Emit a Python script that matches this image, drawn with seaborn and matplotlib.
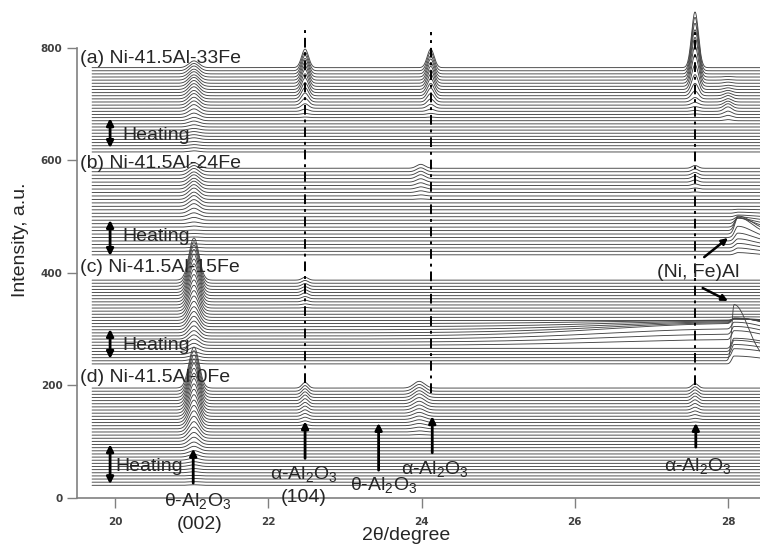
import numpy as np
import pandas as pd
import matplotlib
matplotlib.use("Agg")
import matplotlib.pyplot as plt
import seaborn as sns

# 2theta grid of the scans
two_theta = np.linspace(19.7, 28.5, 1400)

# four alloys, stacked from top (a) to bottom (d)
group_labels = ["(a) Ni-41.5Al-33Fe", "(b) Ni-41.5Al-24Fe",
                "(c) Ni-41.5Al-15Fe", "(d) Ni-41.5Al-0Fe"]
group_counts = [28, 26, 28, 32]
group_base_low = [615, 432, 238, 22]
group_base_high = [765, 586, 387, 195]

# peaks: (centre, left width, right width, heights from bottom scan to top scan)
peaks_a = [
    (21.03, 0.065, 0.065, [2, 2, 2, 2, 3, 3, 3, 3, 4, 5, 6, 8, 10, 12, 13, 14, 15, 15, 16, 16, 16, 16, 15, 15, 14, 14, 13, 12]),
    (22.48, 0.045, 0.045, [0] * 11 + [1, 2, 4, 8, 12, 16, 20, 23, 26, 28, 30, 31, 32, 33, 33, 33, 33]),
    (24.12, 0.045, 0.045, [0] * 11 + [1, 2, 4, 7, 11, 15, 19, 22, 25, 27, 29, 30, 31, 32, 32, 33, 33]),
    (27.57, 0.045, 0.045, [0] * 12 + [1, 2, 3, 5, 8, 14, 22, 32, 44, 56, 66, 76, 84, 90, 95, 99]),
    (28.00, 0.05, 0.05, [0] * 10 + [2, 4, 6, 8, 8, 7, 6, 6, 5, 4, 3, 2, 2, 1, 1, 0, 0, 0]),
]
peaks_b = [
    (21.03, 0.065, 0.065, [1] * 8 + [2, 3, 5, 7, 9, 11, 12, 13, 13, 14, 14, 14, 13, 13, 12, 12, 11, 10]),
    (23.99, 0.055, 0.055, [0] * 16 + [1, 2, 3, 4, 5, 6, 7, 7, 7, 7]),
    (27.57, 0.04, 0.04, [0] * 18 + [1, 2, 3, 4, 5, 5, 5, 5]),
    (28.13, 0.04, 0.18, [4, 6, 8, 10, 14, 20, 30, 26, 16, 10, 6, 3, 2, 1] + [0] * 12),
]
peaks_c = [
    (21.03, 0.065, 0.065, [2, 3, 4, 5, 7, 9, 11, 13, 15, 18, 21, 24, 27, 30, 34, 38, 42, 46, 50, 54, 58, 62, 65, 68, 71, 73, 74, 75]),
    (22.48, 0.04, 0.04, [0] * 18 + [1, 2, 3, 4, 5, 5, 5, 5, 5, 5]),
    (28.08, 0.03, 0.45, [14, 0, 16, 18, 20, 18, 16, 14, 12, 10, 8, 6, 4, 3, 2, 1] + [0] * 12),
    (28.08, 0.03, 0.18, [0, 100] + [0] * 26),
    (28.10, 1.6, 0.5, [0] * 6 + [10, 14, 18, 22, 18, 14, 10, 6] + [0] * 14),
]
peaks_d = [
    (21.03, 0.065, 0.065, [1, 1, 1, 1, 2, 2, 3, 3, 4, 5, 6, 8, 10, 13, 16, 20, 24, 28, 32, 36, 40, 44, 48, 52, 56, 60, 63, 66, 68, 70, 72, 73]),
    (22.48, 0.04, 0.04, [0] * 18 + [1, 2, 3, 4, 5, 6, 7, 8, 9, 10, 10, 10, 10, 10]),
    (23.97, 0.07, 0.07, [0] * 16 + [1, 2, 3, 4, 5, 6, 7, 8, 9, 10, 11, 12, 12, 12, 12, 12]),
    (27.57, 0.04, 0.04, [0] * 20 + [1, 2, 3, 4, 5, 6, 7, 8, 8, 8, 8, 8]),
]
group_peaks = [peaks_a, peaks_b, peaks_c, peaks_d]


def peak_shape(x, c, wl, wr):
    w = np.where(x < c, wl, wr)
    return np.exp(-0.5 * ((x - c) / w) ** 2)


frames = []
trace_id = 0
for g in range(4):
    n = group_counts[g]
    bases = np.linspace(group_base_low[g], group_base_high[g], n)
    for i in range(n):
        y = np.full_like(two_theta, bases[i])
        for c, wl, wr, heights in group_peaks[g]:
            y = y + heights[i] * peak_shape(two_theta, c, wl, wr)
        frames.append(pd.DataFrame({"two_theta": two_theta, "intensity": y, "trace": trace_id}))
        trace_id += 1
df = pd.concat(frames, ignore_index=True)

sns.set_style("ticks")
plt.rcParams["font.family"] = ["Liberation Sans", "DejaVu Sans"]
plt.rcParams["mathtext.fontset"] = "custom"
plt.rcParams["mathtext.rm"] = "Liberation Sans"

fig = plt.figure(figsize=(7.6, 5.45), dpi=100)
ax = fig.add_axes([0.1013, 0.0868, 0.8987, 0.9077])

sns.lineplot(data=df, x="two_theta", y="intensity", units="trace", estimator=None,
             sort=False, color="#444444", linewidth=0.65, legend=False, ax=ax)

ax.set_xlim(19.503, 28.418)
ax.set_ylim(0, 880)
ax.set_xticks([20, 22, 24, 26, 28])
ax.set_yticks([0, 200, 400, 600, 800])
for side in ["top", "right"]:
    ax.spines[side].set_visible(False)
ax.spines["left"].set_bounds(0, 800)
for side in ["left", "bottom"]:
    ax.spines[side].set_color("#808080")
    ax.spines[side].set_linewidth(1.2)
ax.tick_params(axis="both", direction="out", length=7, width=1, color="#808080",
               labelsize=7.5, labelcolor="#404040")
ax.tick_params(axis="x", pad=7)
ax.tick_params(axis="y", pad=3.5)
for lab in ax.get_xticklabels() + ax.get_yticklabels():
    lab.set_fontweight("bold")
    lab.set_family("DejaVu Sans")

ax.set_xlabel("2θ/degree", fontsize=14)
ax.set_ylabel("Intensity, a.u.", fontsize=14)
ax.xaxis.set_label_coords(0.482, -0.060)
ax.yaxis.set_label_coords(-0.070, 0.521)

# reference lines of the alpha-Al2O3 peaks
dashdot = (0, (5, 2.5, 1.5, 2.5))
ax.plot([22.48, 22.48], [204, 835], color="black", lw=1.4, ls=dashdot)
ax.plot([24.13, 24.13], [186, 828], color="black", lw=1.4, ls=dashdot)
ax.plot([27.57, 27.57], [200, 835], color="black", lw=1.4, ls=dashdot)

# sample labels and heating arrows
label_y = [782, 595, 409, 213]
heat_arrow = [(675, 622), (494, 430), (300, 247), (95, 24)]
heat_text = [(20.09, 645), (20.09, 464), (20.09, 271), (20.0, 56)]
for g in range(4):
    ax.text(19.54, label_y[g], group_labels[g], fontsize=14, ha="left", va="center")
    ax.annotate("", xy=(19.935, heat_arrow[g][0]), xytext=(19.935, heat_arrow[g][1]),
                arrowprops=dict(arrowstyle="<|-|>", lw=2, color="black", mutation_scale=10,
                                shrinkA=0, shrinkB=0))
    ax.text(heat_text[g][0], heat_text[g][1], "Heating", fontsize=14, ha="left", va="center")

# phase markers on the bottom pattern
up_arrows = [(21.02, 26, 87), (22.48, 70, 136), (23.44, 49, 133), (24.14, 80, 145), (27.58, 90, 133)]
for x, y0, y1 in up_arrows:
    ax.annotate("", xy=(x, y1), xytext=(x, y0),
                arrowprops=dict(arrowstyle="-|>", lw=2, color="black", mutation_scale=10,
                                shrinkA=0, shrinkB=0))

theta = r"θ-Al$_\mathregular{2}$O$_\mathregular{3}$"
alpha = r"α-Al$_\mathregular{2}$O$_\mathregular{3}$"
ax.text(21.08, -8, theta, fontsize=14, ha="center", va="center")
ax.text(21.11, -48, "(002)", fontsize=14, ha="center", va="center")
ax.text(22.46, 40, alpha, fontsize=14, ha="center", va="center")
ax.text(22.46, 1, "(104)", fontsize=14, ha="center", va="center")
ax.text(23.50, 21, theta, fontsize=14, ha="center", va="center")
ax.text(24.18, 49, alpha, fontsize=14, ha="center", va="center")
ax.text(27.61, 55, alpha, fontsize=14, ha="center", va="center")

# (Ni, Fe)Al peak
ax.text(27.61, 400, "(Ni, Fe)Al", fontsize=14, ha="center", va="center")
ax.annotate("", xy=(28.0, 462), xytext=(27.69, 428),
            arrowprops=dict(arrowstyle="-|>", lw=1.8, color="black", mutation_scale=9,
                            shrinkA=0, shrinkB=0))
ax.annotate("", xy=(28.0, 350), xytext=(27.67, 373),
            arrowprops=dict(arrowstyle="-|>", lw=1.8, color="black", mutation_scale=9,
                            shrinkA=0, shrinkB=0))

fig.savefig("out.png", dpi=100)
